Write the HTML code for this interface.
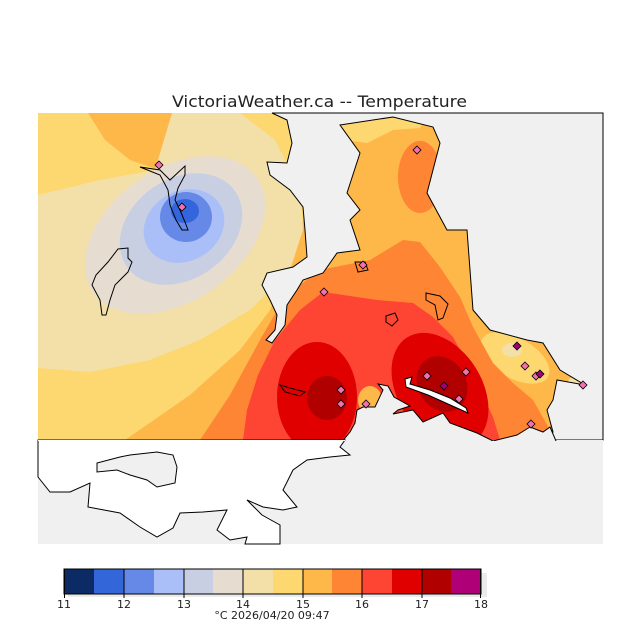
<!DOCTYPE html>
<html><head><meta charset="utf-8"><style>
html,body{margin:0;padding:0;background:#fff;}
svg{display:block;}
text{font-family:"DejaVu Sans","Liberation Sans",sans-serif;fill:#222;}
</style></head><body>
<svg width="640" height="640" viewBox="0 0 640 640" xmlns="http://www.w3.org/2000/svg">
<defs><clipPath id="mc"><rect x="38" y="113" width="565" height="327"/></clipPath></defs>
<text x="172" y="107" font-size="16" textLength="295" lengthAdjust="spacingAndGlyphs">VictoriaWeather.ca -- Temperature</text>

<g clip-path="url(#mc)">
<rect x="38" y="113" width="565" height="327" fill="#fdd870"/>
<path d="M88,113 L172,113 L165,150 L159,170 L130,160 L105,140 Z" fill="#feb84a"/>
<path d="M125,440 L190,395 L240,350 L270,310 L290,260 L310,200 L320,113 L603,113 L603,440 Z" fill="#feb84a"/>
<path d="M38,195 L100,180 L155,170 L172,113 L240,113 L275,140 L300,190 L303,230 L290,270 L250,310 L200,340 L150,360 L90,372 L38,368 Z" fill="#f3dfa8"/>
<ellipse cx="175" cy="235" rx="100" ry="66" transform="rotate(-35 175 235)" fill="#e6ddd0"/>
<ellipse cx="181" cy="229" rx="66" ry="50" transform="rotate(-35 181 229)" fill="#c8cfe3"/>
<ellipse cx="184" cy="226" rx="42" ry="35" transform="rotate(-30 184 226)" fill="#aabff8"/>
<ellipse cx="186" cy="217" rx="26" ry="25" fill="#6688e6"/>
<ellipse cx="185" cy="211" rx="14" ry="12" fill="#3366dd"/>
<!-- east -->
<path d="M330,113 L430,113 L420,128 L393,130 L367,143 L345,140 Z" fill="#fdd870"/>
<ellipse cx="515" cy="358" rx="38" ry="20" transform="rotate(30 515 358)" fill="#fdd870"/>
<ellipse cx="512" cy="350" rx="10" ry="7" fill="#f3dfa8"/>
<ellipse cx="578" cy="382" rx="10" ry="6" fill="#f3dfa8"/>
<ellipse cx="420" cy="177" rx="22" ry="36" fill="#fe8533"/>
<path d="M200,440 L230,395 L260,340 L280,305 L300,285 L320,270 L370,260 L403,240 L420,242 L440,267 L460,297 L473,327 L493,363 L513,383 L533,400 L550,430 L555,440 Z" fill="#fe8533"/>
<path d="M243,440 L247,410 L258,375 L275,340 L300,310 L323,292 L377,300 L413,303 L433,317 L453,337 L467,363 L480,390 L493,417 L500,440 Z" fill="#fe4433"/>
<ellipse cx="317" cy="397" rx="40" ry="55" fill="#e00000"/>
<ellipse cx="440" cy="390" rx="42" ry="62" transform="rotate(-32 440 390)" fill="#e00000"/>
<ellipse cx="327" cy="398" rx="20" ry="22" fill="#b00000"/>
<ellipse cx="442" cy="384" rx="24" ry="29" transform="rotate(-32 442 384)" fill="#b00000"/>
<ellipse cx="370" cy="400" rx="12" ry="14" fill="#feb84a"/>
</g>

<!-- grey mainland -->
<path d="M272,113 L287,120 L292,143 L287,163 L267,162 L270,175 L290,190 L303,207 L305,230 L307,257 L293,267 L267,273 L262,285 L270,300 L277,315 L275,330 L266,340 L272,343 L285,325 L287,305 L297,290 L303,280 L323,273 L337,253 L360,250 L350,220 L360,210 L347,193 L360,153 L340,125 L393,117 L433,127 L440,143 L427,193 L447,230 L467,230 L473,310 L490,330 L527,340 L543,343 L560,370 L585,385 L557,380 L553,400 L547,410 L553,432 L540,440 L603,440 L603,113 Z" fill="#f0f0f0" stroke="#000" stroke-width="1"/>
<!-- lower area -->
<rect x="38" y="440" width="565" height="104" fill="#f0f0f0"/>
<path d="M340,444 L350,432 L355,423 L357,410 L363,407 L375,407 L383,390 L378,384 L388,386 L394,397 L410,406 L398,410 L393,414 L413,410 L423,422 L443,413 L450,423 L477,433 L493,441 L517,435 L530,427 L543,432 L550,427 L556,441 L556,445 L340,445 Z" fill="#f0f0f0" stroke="#000" stroke-width="1"/>
<rect x="339" y="441" width="220" height="6" fill="#f0f0f0"/>
<path d="M405,379 L412,377 L410,384 L430,390 L450,398 L466,408 L468,413 L448,404 L428,395 L406,387 Z" fill="#fff" stroke="#000" stroke-width="1"/>
<path d="M38,440 L345,440 L340,447 L350,455 L330,457 L307,460 L293,470 L283,490 L297,507 L283,510 L263,507 L247,500 L262,515 L280,525 L280,544 L245,544 L247,537 L230,540 L217,530 L227,510 L203,512 L180,513 L173,528 L157,537 L140,527 L120,513 L88,507 L90,483 L70,492 L50,492 L38,477 Z" fill="#fff" stroke="#000" stroke-width="1"/>
<path d="M97,472 L97,463 L120,457 L130,455 L157,452 L173,455 L177,467 L175,483 L157,487 L147,480 L130,475 L117,470 Z" fill="#f0f0f0" stroke="#000" stroke-width="1"/>
<line x1="38" y1="440.5" x2="345" y2="440.5" stroke="#fff" stroke-width="1"/>
<!-- island outlines -->
<g fill="none" stroke="#000" stroke-width="1">
<path d="M140,167 L160,170 L170,180 L185,166 L185,175 L178,188 L175,200 L180,210 L185,222 L188,230 L182,230 L176,220 L170,205 L168,190 L160,175 Z"/>
<path d="M118,249 L128,248 L128,258 L132,262 L128,272 L115,285 L110,300 L106,315 L102,315 L100,300 L92,285 L96,275 L108,262 Z"/>
<path d="M280,385 L290,388 L305,392 L300,396 L285,392 Z"/>
<path d="M386,316 L395,313 L398,320 L392,326 L386,322 Z"/>
<path d="M426,293 L440,296 L448,304 L443,318 L438,320 L435,305 L426,300 Z"/>
<path d="M355,262 L365,262 L368,270 L358,272 Z"/>
</g>
<!-- stations -->
<g stroke="#000" stroke-width="0.8" fill="#f070b0">
<path d="M159,161 l4,4 l-4,4 l-4,-4 Z"/>
<path d="M182,203 l4,4 l-4,4 l-4,-4 Z"/>
<path d="M417,146 l4,4 l-4,4 l-4,-4 Z"/>
<path d="M363,261 l4,4 l-4,4 l-4,-4 Z"/>
<path d="M324,288 l4,4 l-4,4 l-4,-4 Z"/>
<path d="M341,386 l4,4 l-4,4 l-4,-4 Z"/>
<path d="M341,400 l4,4 l-4,4 l-4,-4 Z"/>
<path d="M366,400 l4,4 l-4,4 l-4,-4 Z"/>
<path d="M427,372 l4,4 l-4,4 l-4,-4 Z"/>
<path d="M466,368 l4,4 l-4,4 l-4,-4 Z"/>
<path d="M459,395 l4,4 l-4,4 l-4,-4 Z"/>
<path d="M525,362 l4,4 l-4,4 l-4,-4 Z"/>
<path d="M536,372 l4,4 l-4,4 l-4,-4 Z"/>
<path d="M583,381 l4,4 l-4,4 l-4,-4 Z"/>
<path d="M531,420 l4,4 l-4,4 l-4,-4 Z"/>
<path d="M444,382 l4,4 l-4,4 l-4,-4 Z" fill="#a0007a"/>
<path d="M517,342 l4,4 l-4,4 l-4,-4 Z" fill="#a0007a"/>
<path d="M540,370 l4,4 l-4,4 l-4,-4 Z" fill="#a0007a"/>
</g>

<!-- colorbar -->
<rect x="68" y="573" width="419" height="24" fill="#ebebeb"/>
<g stroke="none">
<rect x="64" y="569" width="30" height="25" fill="#0c2a64"/>
<rect x="94" y="569" width="30" height="25" fill="#3366d8"/>
<rect x="124" y="569" width="30" height="25" fill="#6688e6"/>
<rect x="154" y="569" width="30" height="25" fill="#aabff8"/>
<rect x="184" y="569" width="29" height="25" fill="#c8cfe3"/>
<rect x="213" y="569" width="30" height="25" fill="#e6ddd0"/>
<rect x="243" y="569" width="30" height="25" fill="#f3dfa8"/>
<rect x="273" y="569" width="30" height="25" fill="#fdd870"/>
<rect x="303" y="569" width="29" height="25" fill="#feb84a"/>
<rect x="332" y="569" width="30" height="25" fill="#fe8533"/>
<rect x="362" y="569" width="30" height="25" fill="#fe4433"/>
<rect x="392" y="569" width="30" height="25" fill="#e00000"/>
<rect x="422" y="569" width="29" height="25" fill="#b00000"/>
<rect x="451" y="569" width="30" height="25" fill="#b00078"/>
</g>
<rect x="64" y="569" width="417" height="25" fill="none" stroke="#000" stroke-width="1"/>
<g stroke="#000" stroke-width="1">
<line x1="64.5" y1="569" x2="64.5" y2="598"/>
<line x1="124" y1="569" x2="124" y2="598"/>
<line x1="184" y1="569" x2="184" y2="598"/>
<line x1="243" y1="569" x2="243" y2="598"/>
<line x1="303" y1="569" x2="303" y2="598"/>
<line x1="362" y1="569" x2="362" y2="598"/>
<line x1="422" y1="569" x2="422" y2="598"/>
<line x1="480.5" y1="569" x2="480.5" y2="598"/>
</g>
<g font-size="11" text-anchor="middle">
<text x="64" y="608">11</text>
<text x="124" y="608">12</text>
<text x="184" y="608">13</text>
<text x="243" y="608">14</text>
<text x="303" y="608">15</text>
<text x="362" y="608">16</text>
<text x="422" y="608">17</text>
<text x="481" y="608">18</text>
<text x="272" y="619">°C  2026/04/20 09:47</text>
</g>
</svg>
</body></html>
